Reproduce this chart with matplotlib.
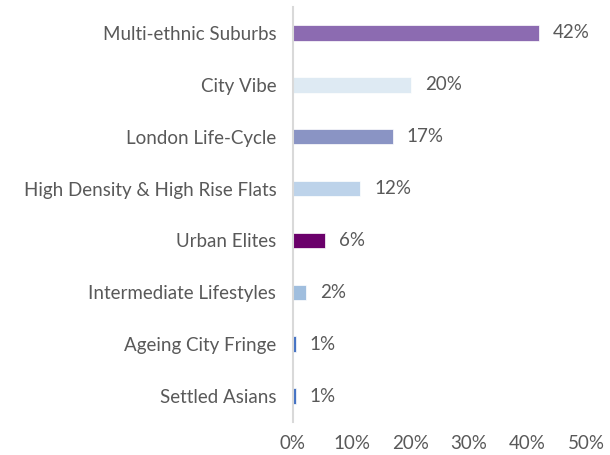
import matplotlib.pyplot as plt
from matplotlib.ticker import FuncFormatter

categories = ['Multi-ethnic Suburbs', 'City Vibe', 'London Life-Cycle',
              'High Density & High Rise Flats', 'Urban Elites',
              'Intermediate Lifestyles', 'Ageing City Fringe', 'Settled Asians']
values = [0.42, 0.201, 0.17, 0.115, 0.055, 0.022, 0.005, 0.005]
bar_colors = ['#8C6BB1', '#DEEAF3', '#8A94C4', '#BDD3EA', '#6B006B',
              '#A0BEDE', '#4472C4', '#4472C4']
value_labels = ['42%', '20%', '17%', '12%', '6%', '2%', '1%', '1%']

text_color = '#595959'
plt.rcParams['font.family'] = ['Lato', 'DejaVu Sans']

fig = plt.figure(figsize=(6.1, 4.55), dpi=100)
ax = fig.add_axes([0.4803, 0.0725, 0.4803, 0.9121])

pos = list(range(len(categories)))[::-1]
ax.barh(pos, values, height=0.3, color=bar_colors, edgecolor='white', linewidth=0.5)

for y, v, lab in zip(pos, values, value_labels):
    ax.annotate(lab, (v, y), xytext=(10, 0), textcoords='offset points',
                va='center', ha='left', fontsize=13.5, color=text_color)

ax.set_xlim(0, 0.5)
ax.set_ylim(-0.5, 7.5)
ax.set_yticks(pos)
ax.set_yticklabels(categories)
ax.set_xticks([0, 0.1, 0.2, 0.3, 0.4, 0.5])
ax.xaxis.set_major_formatter(FuncFormatter(lambda x, p: f'{x*100:.0f}%'))
ax.tick_params(axis='both', length=0, labelsize=13.5, labelcolor=text_color)
ax.tick_params(axis='y', pad=12)
ax.tick_params(axis='x', pad=9)

for s in ['top', 'right', 'bottom']:
    ax.spines[s].set_visible(False)
ax.spines['left'].set_color('#D9D9D9')
ax.spines['left'].set_linewidth(1.5)

fig.savefig('out.png', dpi=100)
